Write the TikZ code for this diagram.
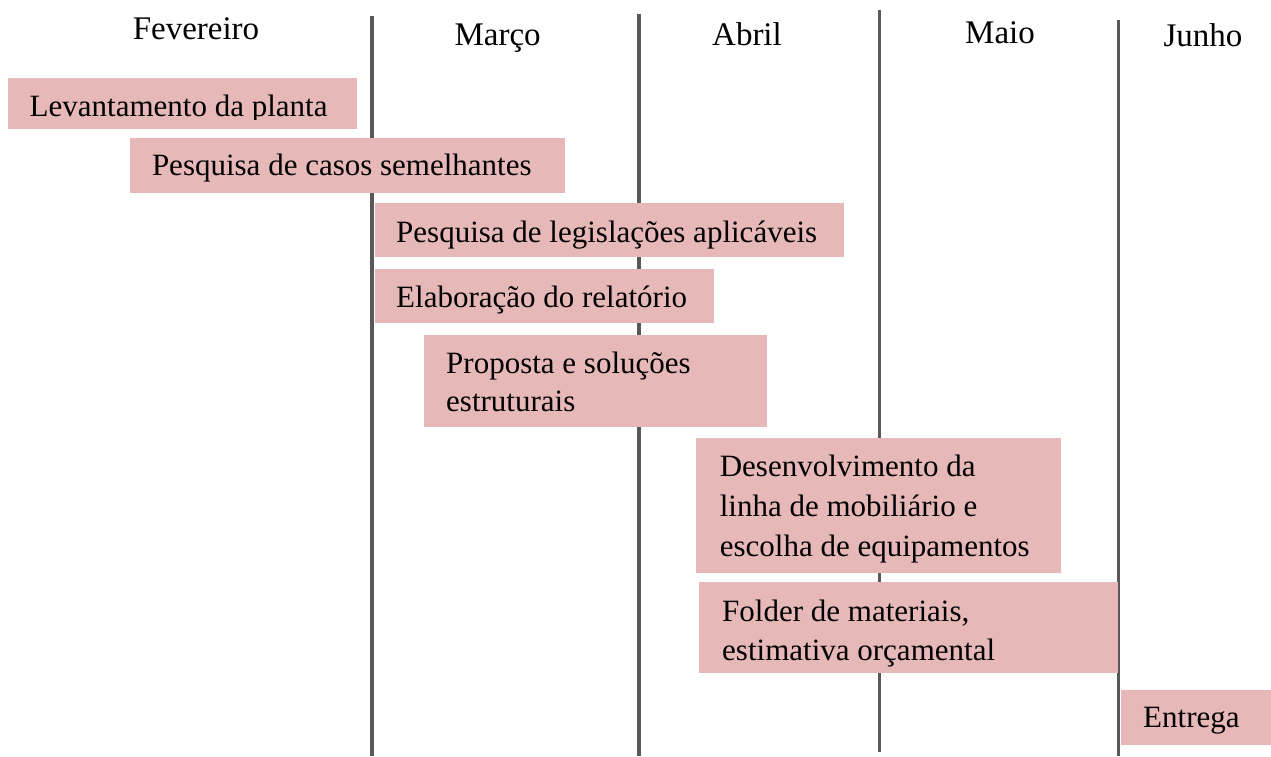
\documentclass[tikz,border=0pt]{standalone}
\usepackage{fontspec}
\setmainfont{Liberation Serif}
\definecolor{pinkc}{HTML}{E6B8B7}
\definecolor{grayc}{HTML}{595959}
\newcommand{\mylines}[2]{\parbox[t]{420pt}{\fontsize{31pt}{#1}\selectfont\raggedright #2}}
\begin{document}
\begin{tikzpicture}[x=1pt,y=-1pt,
  bar/.style={fill=pinkc, draw=none, inner sep=0pt, anchor=north west},
  txt/.style={anchor=base west, inner sep=0pt, font=\fontsize{31pt}{38pt}\selectfont},
  month/.style={anchor=base, inner sep=0pt, font=\fontsize{33pt}{38pt}\selectfont},
  divider/.style={line width=3.8pt, draw=grayc}]
\useasboundingbox (0,0) rectangle (1271,756);
% dividers
\coordinate (l1t) at (372,16);   \coordinate (l1b) at (372,756);
\coordinate (l2t) at (638.7,14); \coordinate (l2b) at (638.7,756);
\coordinate (l3t) at (879.4,10); \coordinate (l3b) at (879.4,751.7);
\coordinate (l4t) at (1118.5,20);\coordinate (l4b) at (1118.5,756);
\draw[divider] (l1t) -- (l1b);
\draw[divider] (l2t) -- (l2b);
\draw[divider] (l3t) -- (l3b);
\draw[divider] (l4t) -- (l4b);
% months
\node[month] (m1) at (196,39) {Fevereiro};
\node[month] (m2) at (497.6,45) {Março};
\node[month] (m3) at (747,45) {Abril};
\node[month] (m4) at (1000,43) {Maio};
\node[month] (m5) at (1203,46) {Junho};
% bars
\node[bar, minimum width=349pt, minimum height=51pt] (b1) at (8,78) {};
\node[bar, minimum width=435pt, minimum height=54.5pt] (b2) at (130,138) {};
\node[bar, minimum width=469pt, minimum height=54.4pt] (b3) at (375,202.3) {};
\node[bar, minimum width=339pt, minimum height=54.4pt] (b4) at (375,268.3) {};
\node[bar, minimum width=343pt, minimum height=92.4pt] (b5) at (424,334.3) {};
\node[bar, minimum width=364.5pt, minimum height=134.7pt] (b6) at (696,438) {};
\node[bar, minimum width=419.3pt, minimum height=90.7pt] (b7) at (698.7,582) {};
\node[bar, minimum width=150pt, minimum height=54.3pt] (b8) at (1121,690) {};
% texts
\begin{scope}
\clip (0,78) rectangle (1271,119.5);
\node[txt] (t1) at (29.5,116.7) {Levantamento da planta};
\end{scope}
\node[txt] (t2) at (151.8,175.7) {Pesquisa de casos semelhantes};
\node[txt] (t3) at (396,242.7) {Pesquisa de legislações aplicáveis};
\node[txt] (t4) at (396,307.3) {Elaboração do relatório};
\node[txt] (t5) at (446,373.3) {\mylines{38.4pt}{Proposta e soluções\\estruturais}};
\node[txt] (t6) at (719.6,476.7) {\mylines{39.7pt}{Desenvolvimento da\\linha de mobiliário e\\escolha de equipamentos}};
\node[txt] (t7) at (722,621.7) {\mylines{38.4pt}{Folder de materiais,\\estimativa orçamental}};
\node[txt] (t8) at (1143,727.7) {Entrega};
\end{tikzpicture}
\end{document}
